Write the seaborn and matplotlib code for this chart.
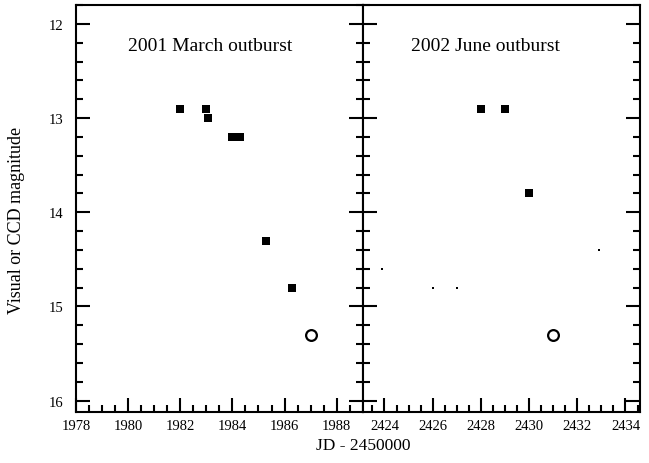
import matplotlib.pyplot as plt
import matplotlib.ticker as mticker
import seaborn as sns

# 2001 March outburst (JD - 2450000)
mar_jd = [1982.0, 1983.0, 1983.05, 1984.0, 1984.3, 1985.3, 1986.3]
mar_mag = [12.9, 12.9, 13.0, 13.2, 13.2, 14.3, 14.8]
mar_ccd_jd = [1987.0]
mar_ccd_mag = [15.3]

# 2002 June outburst
jun_jd = [2428.0, 2429.0, 2430.0]
jun_mag = [12.9, 12.9, 13.8]
jun_faint_jd = [2423.9, 2426.0, 2427.0, 2432.9]
jun_faint_mag = [14.6, 14.8, 14.8, 14.4]
jun_ccd_jd = [2431.0]
jun_ccd_mag = [15.3]

sns.set_style("ticks")
plt.rcParams['font.family'] = ['Liberation Serif', 'DejaVu Serif']
plt.rcParams['axes.linewidth'] = 1.5
plt.rcParams['axes.edgecolor'] = 'black'
plt.rcParams['xtick.color'] = 'black'
plt.rcParams['ytick.color'] = 'black'
plt.rcParams['text.color'] = 'black'

fig = plt.figure(figsize=(6.49, 4.64), dpi=100)
ax1 = fig.add_axes([0.117, 0.110, 0.442, 0.877])
ax2 = fig.add_axes([0.559, 0.110, 0.427, 0.877])

panels = [
    (ax1, mar_jd, mar_mag, [], [], mar_ccd_jd, mar_ccd_mag, (1978, 1989), "2001 March outburst", 1980.0),
    (ax2, jun_jd, jun_mag, jun_faint_jd, jun_faint_mag, jun_ccd_jd, jun_ccd_mag, (2423.1, 2434.6), "2002 June outburst", 2425.1),
]

for ax, jd, mag, fjd, fmag, cjd, cmag, xlim, title, tx in panels:
    sns.scatterplot(x=jd, y=mag, ax=ax, marker='s', s=40, color='black', edgecolor='black', linewidth=0)
    if fjd:
        sns.scatterplot(x=fjd, y=fmag, ax=ax, marker='s', s=3, color='black', edgecolor='black', linewidth=0)
    sns.scatterplot(x=cjd, y=cmag, ax=ax, marker='o', s=60, facecolor='white', edgecolor='black', linewidth=1.6)
    ax.set_xlim(*xlim)
    ax.set_ylim(16.12, 11.80)
    ax.xaxis.set_major_locator(mticker.MultipleLocator(2))
    ax.xaxis.set_minor_locator(mticker.MultipleLocator(0.5))
    ax.yaxis.set_major_locator(mticker.MultipleLocator(1))
    ax.yaxis.set_minor_locator(mticker.MultipleLocator(0.2))
    ax.tick_params(which='both', direction='in', left=True, right=True, top=False, bottom=True, width=1.5)
    ax.tick_params(which='major', length=10)
    ax.tick_params(which='minor', length=5)
    ax.tick_params(axis='x', labelsize=10.5, pad=5)
    ax.tick_params(axis='y', labelsize=10.5, pad=9)
    ax.text(tx, 12.23, title, fontsize=14, ha='left', va='center')
    ax.set_xlabel('')
    ax.set_ylabel('')

ax2.tick_params(axis='y', labelleft=False)

fig.text(0.559, 0.039, "JD - 2450000", ha='center', va='center', fontsize=12.5)
fig.text(0.026, 0.524, "Visual or CCD magnitude", ha='center', va='center', rotation=90, fontsize=13)

fig.savefig("out.png", dpi=100)
